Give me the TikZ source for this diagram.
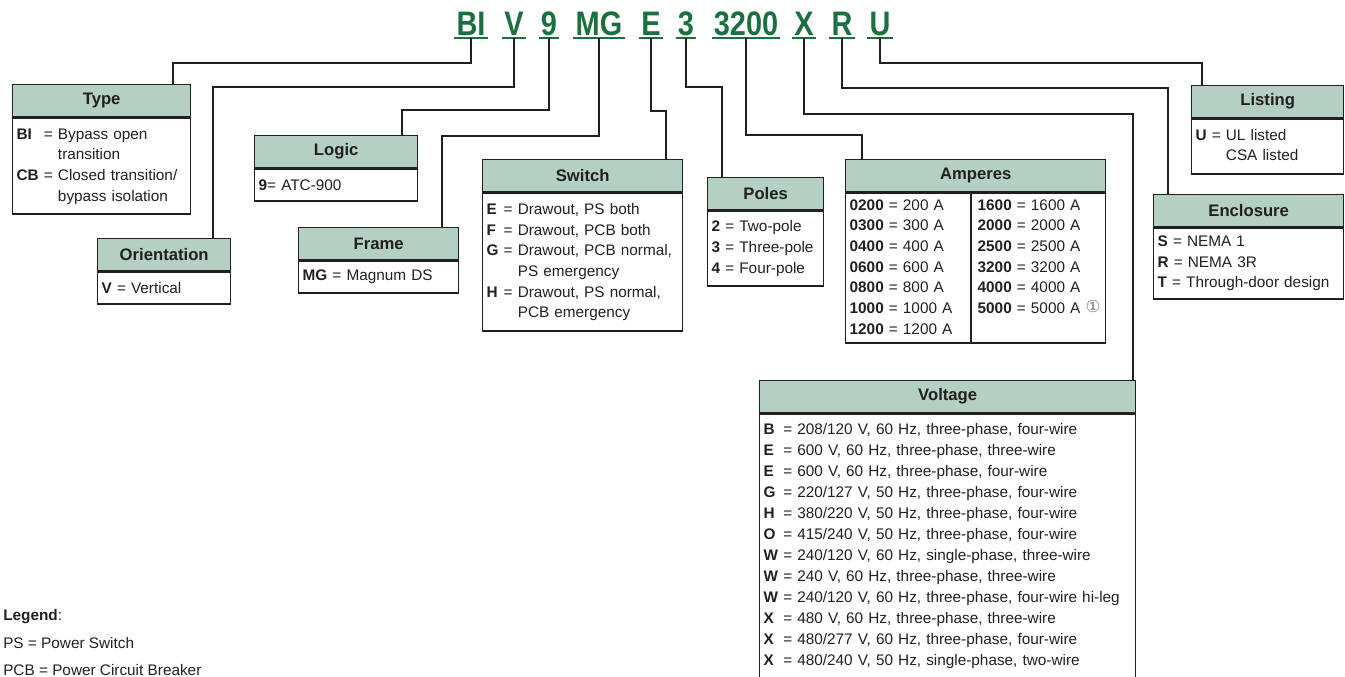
\documentclass[tikz,border=0pt]{standalone}
\usepackage{fontspec}
\setmainfont{Liberation Sans}
\newfontfamily\codefont[FakeStretch=0.85]{Liberation Sans}
\newfontfamily\symfont{DejaVu Sans}
\usetikzlibrary{positioning}
\usetikzlibrary{calc}
\definecolor{ink}{RGB}{35,31,32}
\definecolor{headfill}{RGB}{179,208,194}
\definecolor{codegreen}{RGB}{26,112,62}
\newcommand{\bodyfont}{\fontsize{11.5}{15.5}\selectfont}
\newcommand{\circone}{\raisebox{0.5pt}{\textcolor{gray}{\symfont\fontsize{12.5}{13}\selectfont ①}}}
\tikzset{codelbl/.style = {text=codegreen, anchor=base, inner xsep=1.5pt,
                           inner ysep=1.5pt, text depth=0pt,
                           font=\codefont\bfseries\fontsize{25.5}{28}\selectfont}}
\tikzset{uline/.style = {draw=codegreen, line width=1.5pt}}
\tikzset{link/.style = {draw=ink, line width=1.5pt}}
\tikzset{boxhead/.style = {draw=ink, fill=headfill, line width=1pt, anchor=north west,
                           minimum height=24pt, inner sep=0pt, text=ink,
                           font=\bfseries\fontsize{12.5}{14}\selectfont}}
\tikzset{boxbody/.style = {draw=ink, line width=1pt, anchor=north west, inner xsep=3pt,
                           inner ysep=0pt, align=left, text=ink, font=\bodyfont}}

\begin{document}
\begin{tikzpicture}[x=0.75pt,y=-0.75pt]
  \useasboundingbox (0,0) rectangle (1345,677);
  % catalog number
  \node[codelbl] (cBI) at (471,36) {BI};
  \node[codelbl] (cV) at (514,36) {V};
  \node[codelbl] (cNine) at (549,36) {9};
  \node[codelbl] (cMG) at (599,36) {MG};
  \node[codelbl] (cE) at (651,36) {E};
  \node[codelbl] (cThree) at (686,36) {3};
  \node[codelbl] (cAmp) at (746,36) {3200};
  \node[codelbl] (cX) at (804,36) {X};
  \node[codelbl] (cR) at (842,36) {R};
  \node[codelbl] (cU) at (880,36) {U};
  \foreach \c in {cBI,cV,cNine,cMG,cE,cThree,cAmp,cX,cR,cU}
    \draw[uline] (\c.south west) -- (\c.south east);

  % Type
  \node[boxhead, minimum width=133.5pt] (typeHead) at (12,84) {Type};
  \node[boxbody, text width=127.5pt, minimum height=72pt] (typeBody) at (typeHead.south west)
    {\begin{tabular}{@{}l@{\ }l@{}}
     \textbf{BI} & = Bypass open\\
                 & \phantom{= }transition\\
     \textbf{CB} & = Closed transition/\\
                 & \phantom{= }bypass isolation
     \end{tabular}};
  % Orientation
  \node[boxhead, minimum width=99.75pt] (orientHead) at (97,238) {Orientation};
  \node[boxbody, text width=93.75pt, minimum height=24pt] (orientBody) at (orientHead.south west)
    {\textbf{V} = Vertical};
  % Logic
  \node[boxhead, minimum width=122.25pt] (logicHead) at (254,135) {Logic};
  \node[boxbody, text width=116.25pt, minimum height=24pt] (logicBody) at (logicHead.south west)
    {\textbf{9}= ATC-900};
  % Frame
  \node[boxhead, minimum width=120pt] (frameHead) at (298,227) {Frame};
  \node[boxbody, text width=114pt, minimum height=24pt] (frameBody) at (frameHead.south west)
    {\textbf{MG} = Magnum DS};
  % Switch
  \node[boxhead, minimum width=150pt] (switchHead) at (482,159) {Switch};
  \node[boxbody, text width=144pt, minimum height=103.5pt] (switchBody) at (switchHead.south west)
    {\begin{tabular}{@{}l@{\ }l@{}}
     \textbf{E} & = Drawout, PS both\\
     \textbf{F} & = Drawout, PCB both\\
     \textbf{G} & = Drawout, PCB normal,\\
                & \phantom{= }PS emergency\\
     \textbf{H} & = Drawout, PS normal,\\
                & \phantom{= }PCB emergency
     \end{tabular}};
  % Poles
  \node[boxhead, minimum width=87pt] (polesHead) at (707,177) {Poles};
  \node[boxbody, text width=81pt, minimum height=56.25pt] (polesBody) at (polesHead.south west)
    {\textbf{2} = Two-pole\\ \textbf{3} = Three-pole\\ \textbf{4} = Four-pole};
  % Amperes
  \node[boxhead, minimum width=195pt] (ampHead) at (845,159) {Amperes};
  \node[boxbody, text width=189pt, minimum height=112.5pt] (ampBody) at (ampHead.south west)
    {\makebox[96pt][l]{\begin{tabular}[t]{@{}l@{}}
       \textbf{0200} = 200 A\\ \textbf{0300} = 300 A\\ \textbf{0400} = 400 A\\
       \textbf{0600} = 600 A\\ \textbf{0800} = 800 A\\ \textbf{1000} = 1000 A\\
       \textbf{1200} = 1200 A
     \end{tabular}}\begin{tabular}[t]{@{}l@{}}
       \textbf{1600} = 1600 A\\ \textbf{2000} = 2000 A\\ \textbf{2500} = 2500 A\\
       \textbf{3200} = 3200 A\\ \textbf{4000} = 4000 A\\ \textbf{5000} = 5000 A \circone
     \end{tabular}};
  \draw[draw=ink, line width=1pt] ($(ampBody.north west)+(126,0)$) -- ($(ampBody.south west)+(126,0)$);
  % Listing
  \node[boxhead, minimum width=114pt] (listHead) at (1191,85) {Listing};
  \node[boxbody, text width=108pt, minimum height=41.25pt] (listBody) at (listHead.south west)
    {\begin{tabular}{@{}l@{\ }l@{}}
     \textbf{U} & = UL listed\\
                & \phantom{= }CSA listed
     \end{tabular}};
  % Enclosure
  \node[boxhead, minimum width=142.5pt] (enclHead) at (1153,194) {Enclosure};
  \node[boxbody, text width=136.5pt, minimum height=53.25pt] (enclBody) at (enclHead.south west)
    {\textbf{S} = NEMA 1\\ \textbf{R} = NEMA 3R\\ \textbf{T} = Through-door design};
  % Voltage (runs off the page)
  \node[boxhead, minimum width=282pt] (voltHead) at (759,380) {Voltage};
  \node[boxbody, text width=276pt, inner ysep=4.5pt, font=\fontsize{11.5}{15.75}\selectfont]
    (voltBody) at (voltHead.south west)
    {\begin{tabular}{@{}l@{\ }l@{}}
     \textbf{B} & = 208/120 V, 60 Hz, three-phase, four-wire\\
     \textbf{E} & = 600 V, 60 Hz, three-phase, three-wire\\
     \textbf{E} & = 600 V, 60 Hz, three-phase, four-wire\\
     \textbf{G} & = 220/127 V, 50 Hz, three-phase, four-wire\\
     \textbf{H} & = 380/220 V, 50 Hz, three-phase, four-wire\\
     \textbf{O} & = 415/240 V, 50 Hz, three-phase, four-wire\\
     \textbf{W} & = 240/120 V, 60 Hz, single-phase, three-wire\\
     \textbf{W} & = 240 V, 60 Hz, three-phase, three-wire\\
     \textbf{W} & = 240/120 V, 60 Hz, three-phase, four-wire hi-leg\\
     \textbf{X} & = 480 V, 60 Hz, three-phase, three-wire\\
     \textbf{X} & = 480/277 V, 60 Hz, three-phase, four-wire\\
     \textbf{X} & = 480/240 V, 50 Hz, single-phase, two-wire\\[14pt]
     \end{tabular}};

  % connectors
  \draw[link] (cBI.south) -- ++(0,25) -| ($(typeHead.north west)+(161,0)$);
  \draw[link] (cV.south) -- ++(0,49) -| ($(orientHead.north west)+(116,0)$);
  \draw[link] (cNine.south) -- ++(0,72) -| ($(logicHead.north west)+(148,0)$);
  \draw[link] (cMG.south) -- ++(0,98) -| ($(frameHead.north west)+(144,0)$);
  \draw[link] (cE.south) -- ++(0,73) -| ($(switchHead.north west)+(184,0)$);
  \draw[link] (cThree.south) -- ++(0,49) -| ($(polesHead.north west)+(15,0)$);
  \draw[link] (cAmp.south) -- ++(0,97) -| ($(ampHead.north west)+(17,0)$);
  \draw[link] (cX.south) -- ++(0,76) -| ($(voltHead.north west)+(374,0)$);
  \draw[link] (cR.south) -- ++(0,50) -| ($(enclHead.north west)+(15,0)$);
  \draw[link] (cU.south) -- ++(0,25) -| ($(listHead.north west)+(11,0)$);

  % legend
  \node[anchor=base west, inner sep=0pt, text=ink, font=\bodyfont] (legHead) at (3,620) {\textbf{Legend}:};
  \node[anchor=base west, inner sep=0pt, text=ink, font=\bodyfont] (legPS) at (3,648) {PS = Power Switch};
  \node[anchor=base west, inner sep=0pt, text=ink, font=\bodyfont] (legPCB) at (3,675) {PCB = Power Circuit Breaker};
\end{tikzpicture}
\end{document}
